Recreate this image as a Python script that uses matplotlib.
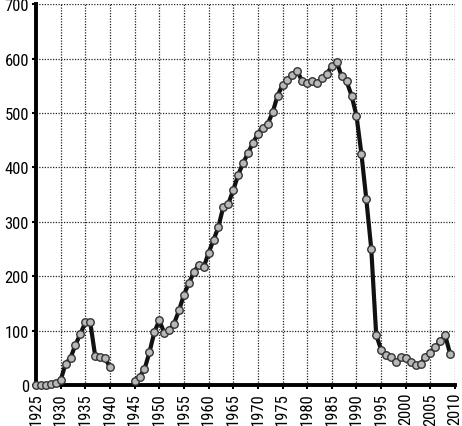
import numpy as np
import matplotlib
matplotlib.use("Agg")
from matplotlib import pyplot as plt
from matplotlib import font_manager

# pick a narrow font if there is one installed
names = set(f.name for f in font_manager.fontManager.ttflist)
narrow = [n for n in ['Liberation Sans Narrow', 'DejaVu Sans Condensed', 'Roboto Condensed',
                      'Open Sans Condensed'] if n in names]
plt.rcParams['font.family'] = narrow + ['DejaVu Sans']
plt.rcParams['font.stretch'] = 'condensed'

# data, one value per year (gap 1941-1944)
years = list(range(1925, 2010))
values = [0, 0, 0, 1, 3, 9, 39, 50, 74, 94,          # 1925-1934
          115, 115, 53, 51, 49, 33, None, None, None, None,   # 1935-1944
          8, 15, 29, 60, 97, 119, 96, 101, 113, 137,   # 1945-1954
          166, 187, 207, 221, 216, 243, 266, 291, 328, 333,   # 1955-1964
          358, 386, 408, 426, 445, 461, 472, 480, 501, 532,   # 1965-1974
          551, 561, 569, 577, 558, 555, 559, 555, 564, 572,   # 1975-1984
          586, 594, 567, 558, 532, 495, 425, 341, 250, 92,    # 1985-1994
          65, 55, 51, 42, 51, 49, 43, 36, 39, 51,             # 1995-2004
          59, 69, 81, 91, 57]                                 # 2005-2009
x_ticks = list(range(1925, 2011, 5))
y_ticks = list(range(0, 701, 100))

vals = np.array([np.nan if v is None else v for v in values], dtype=float)

fig = plt.figure(figsize=(4.62, 4.27), dpi=100)
ax = fig.add_axes([0.078, 0.096, 0.907, 0.892])

ax.plot(years, vals, color='#111111', lw=3.0, marker='o', ms=5.4,
        mfc='#b8b8b8', mec='#333333', mew=1.0, clip_on=False, zorder=3)

fs = 12 if narrow else 10.5
ax.set_xlim(1925, 2010)
ax.set_ylim(0, 700)
ax.set_xticks(x_ticks)
ax.set_yticks(y_ticks)
ax.set_xticklabels([str(t) for t in x_ticks], rotation=90, fontsize=fs)
ax.set_yticklabels([str(t) for t in y_ticks], fontsize=fs)
ax.tick_params(axis='both', length=3, width=1.5, color='black', pad=2)

ax.grid(True, color='#222222', ls=(0, (1, 1.2)), lw=0.9)
for s in ['top', 'right']:
    ax.spines[s].set_visible(False)
for s in ['left', 'bottom']:
    ax.spines[s].set_linewidth(2.8)
    ax.spines[s].set_color('black')

fig.savefig('out.png', dpi=100)
